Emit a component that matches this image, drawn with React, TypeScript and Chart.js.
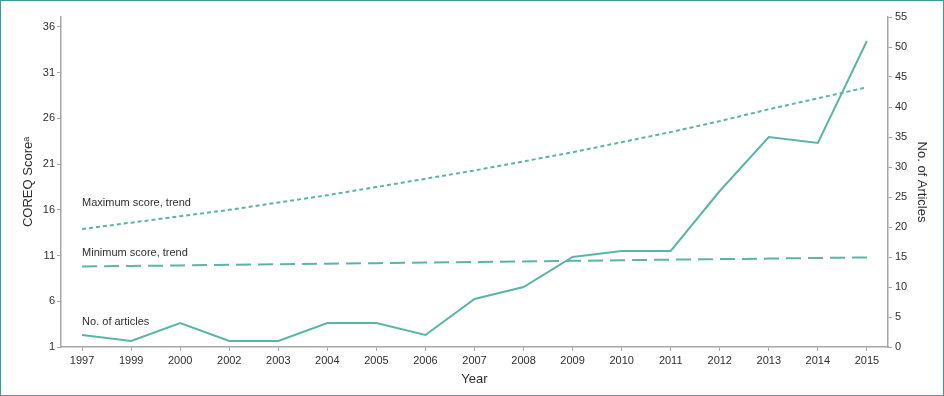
import React, { useEffect, useRef } from "react";
import { Chart, registerables } from "chart.js";

Chart.register(...registerables);

const years = ["1997", "1999", "2000", "2002", "2003", "2004", "2005", "2006", "2007", "2008", "2009", "2010", "2011", "2012", "2013", "2014", "2015"];
const articles = [2, 1, 4, 1, 1, 4, 4, 2, 8, 10, 15, 16, 16, 26, 35, 34, 51];
const maxTrend = [13.9, 14.6, 15.3, 16.0, 16.8, 17.6, 18.5, 19.4, 20.3, 21.3, 22.3, 23.4, 24.5, 25.7, 27.0, 28.2, 29.4];
const minTrend = [9.8, 9.86, 9.92, 9.99, 10.05, 10.11, 10.17, 10.24, 10.3, 10.36, 10.42, 10.49, 10.55, 10.61, 10.67, 10.74, 10.8];
const leftTicks = [1, 6, 11, 16, 21, 26, 31, 36];
const seriesLabels = ["Maximum score, trend", "Minimum score, trend", "No. of articles"];
const labelAnchors = [16.7, 11.25, 3.7];

const TEAL = "#5bb4a8";
const TEXT = "#2e2e2e";
const AXIS = "#a6a6a6";
const FONT = "'Liberation Sans', Arial, Helvetica, sans-serif";

const annotationPlugin = {
  id: "seriesText",
  afterDatasetsDraw(chart: any) {
    const { ctx, scales } = chart;
    const xs = scales.x;
    const yl = scales.yLeft;
    ctx.save();
    ctx.font = `11px ${FONT}`;
    ctx.fillStyle = TEXT;
    ctx.textAlign = "left";
    ctx.textBaseline = "middle";
    seriesLabels.forEach((t, i) => {
      ctx.fillText(t, xs.getPixelForValue(0), yl.getPixelForValue(labelAnchors[i]));
    });
    ctx.restore();
  },
};

export default function App() {
  const ref = useRef<HTMLCanvasElement | null>(null);

  useEffect(() => {
    if (!ref.current) return;
    const pts = (arr: number[]) => arr.map((v, i) => ({ x: i, y: v }));
    const chart = new Chart(ref.current, {
      type: "line",
      data: {
        datasets: [
          {
            label: seriesLabels[0],
            data: pts(maxTrend),
            yAxisID: "yLeft",
            borderColor: TEAL,
            borderWidth: 2,
            borderDash: [4, 3],
            pointRadius: 0,
            fill: false,
          },
          {
            label: seriesLabels[1],
            data: pts(minTrend),
            yAxisID: "yLeft",
            borderColor: TEAL,
            borderWidth: 2,
            borderDash: [15, 7],
            pointRadius: 0,
            fill: false,
          },
          {
            label: seriesLabels[2],
            data: pts(articles),
            yAxisID: "yRight",
            borderColor: TEAL,
            borderWidth: 2,
            pointRadius: 0,
            fill: false,
            tension: 0,
          },
        ],
      },
      options: {
        responsive: false,
        animation: false,
        layout: { padding: { top: 17, left: 0, right: 0, bottom: 0 } },
        plugins: { legend: { display: false }, tooltip: { enabled: false } },
        scales: {
          x: {
            type: "linear",
            min: -0.43,
            max: 16.43,
            afterBuildTicks: (s: any) => {
              s.ticks = years.map((_, i) => ({ value: i }));
            },
            afterFit: (s: any) => {
              s.height = 49;
            },
            ticks: {
              autoSkip: false,
              maxRotation: 0,
              padding: 3,
              color: TEXT,
              font: { family: FONT, size: 11 },
              callback: (v: any) => years[v as number] ?? "",
            },
            grid: { drawOnChartArea: false, drawTicks: true, tickLength: 4, color: AXIS },
            border: { display: true, color: AXIS, width: 1.5 },
            title: {
              display: true,
              text: "Year",
              color: TEXT,
              font: { family: FONT, size: 13 },
              padding: { top: 0, bottom: 9 },
            },
          },
          yLeft: {
            type: "linear",
            position: "left",
            min: 1,
            max: 37.09,
            afterBuildTicks: (s: any) => {
              s.ticks = leftTicks.map((v) => ({ value: v }));
            },
            afterFit: (s: any) => {
              s.width = 61;
            },
            ticks: {
              padding: 2,
              color: TEXT,
              font: { family: FONT, size: 11 },
            },
            grid: { drawOnChartArea: false, drawTicks: true, tickLength: 4, color: AXIS },
            border: { display: true, color: AXIS, width: 1.5 },
            title: {
              display: true,
              text: "COREQ Scoreᵃ",
              color: TEXT,
              font: { family: FONT, size: 13 },
              padding: { top: 21, bottom: 0 },
            },
          },
          yRight: {
            type: "linear",
            position: "right",
            min: 0,
            max: 55,
            afterFit: (s: any) => {
              s.width = 56;
            },
            ticks: {
              stepSize: 5,
              padding: 3,
              color: TEXT,
              font: { family: FONT, size: 11 },
            },
            grid: { drawOnChartArea: false, drawTicks: true, tickLength: 4, color: AXIS },
            border: { display: true, color: AXIS, width: 1.5 },
            title: {
              display: true,
              text: "No. of Articles",
              color: TEXT,
              font: { family: FONT, size: 13 },
              padding: { top: 15, bottom: 0 },
            },
          },
        },
      },
      plugins: [annotationPlugin],
    } as any);
    return () => chart.destroy();
  }, []);

  return (
    <div style={{ position: "absolute", left: 0, top: 0, width: 944, height: 396, background: "#fff" }}>
      <canvas ref={ref} width={944} height={396} style={{ position: "absolute", left: 0, top: 0 }} />
      <div
        style={{
          position: "absolute",
          left: 0,
          top: 0,
          width: 944,
          height: 396,
          boxSizing: "border-box",
          border: "1.5px solid #3a9e9c",
          pointerEvents: "none",
        }}
      />
    </div>
  );
}
